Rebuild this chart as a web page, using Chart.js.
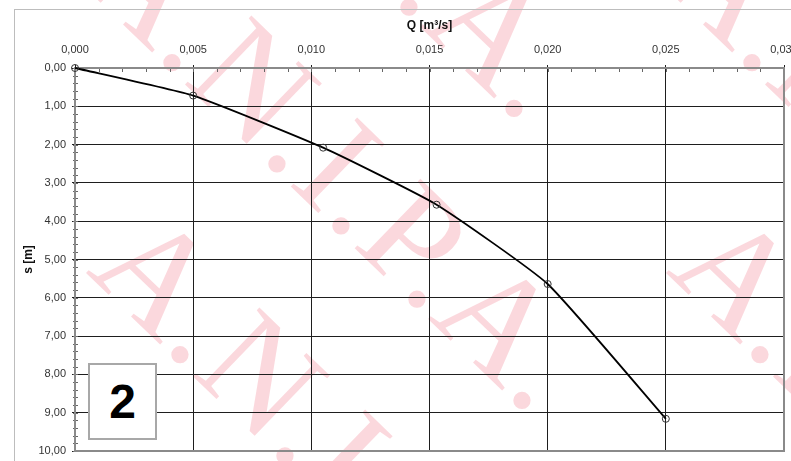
<!DOCTYPE html>
<html>
<head>
<meta charset="utf-8">
<script src="https://cdn.jsdelivr.net/npm/chart.js@4/dist/chart.umd.min.js"></script>
<style>
  html, body { margin: 0; padding: 0; background: #fff; }
  #wrap { position: relative; width: 791px; height: 461px; overflow: hidden; }
  #myChart { position: absolute; left: 0; top: 0; }
  #badge {
    position: absolute; left: 88px; top: 363px; width: 65px; height: 73px;
    border: 2px solid #a8a8a8; background: #fff; color: #000;
    font: bold 48px "Liberation Sans", Arial, sans-serif;
    display: flex; align-items: center; justify-content: center;
  }
</style>
</head>
<body>
<div id="wrap">
  <canvas id="myChart" width="791" height="461"></canvas>
  <div id="badge">2</div>
</div>
<script>
// Q [m3/s] vs drawdown s [m]
const flowQ = [0.000, 0.005, 0.0105, 0.0153, 0.0200, 0.0250];
const drawdownS = [0.00, 0.72, 2.08, 3.57, 5.64, 9.16];

const xTitle = 'Q [m³/s]';
const yTitle = 's [m]';
const watermark = 'A.N.I.P.A.';

const labelFont = { family: '"Liberation Sans", Arial, sans-serif', size: 11 };
const titleFont = { family: '"Liberation Sans", Arial, sans-serif', size: 12, weight: 'bold' };

const points = flowQ.map((q, i) => ({ x: q, y: drawdownS[i] }));

// pink watermark + light outer frame, behind everything
const backdrop = {
  id: 'backdrop',
  beforeDraw(chart) {
    const c = chart.ctx;
    c.save();
    c.font = '146px "Liberation Serif", "Times New Roman", serif';
    c.letterSpacing = '2px';
    c.fillStyle = 'rgba(232, 40, 64, 0.18)';
    c.textBaseline = 'alphabetic';
    for (let i = -2; i <= 2; i++) {
      for (let j = -2; j <= 2; j++) {
        c.save();
        c.translate(77 + i * 580 + j * 8, -20 + j * 292);
        c.rotate(44 * Math.PI / 180);
        c.fillText(watermark, 0, 0);
        c.restore();
      }
    }
    c.letterSpacing = '0px';
    c.strokeStyle = '#bdbdbd';
    c.lineWidth = 1;
    c.strokeRect(14.5, 9.5, 800, 500);
    c.restore();
  },
  beforeDatasetsDraw(chart) {
    const c = chart.ctx;
    const xs = chart.scales.x, ys = chart.scales.y;
    const a = chart.chartArea;
    c.save();
    c.strokeStyle = '#666';
    c.lineWidth = 1;
    c.beginPath();
    // minor ticks on the top axis
    for (let k = 0; k <= 30; k++) {
      const px = Math.round(xs.getPixelForValue(k * 0.001)) + 0.5;
      c.moveTo(px, a.top);
      c.lineTo(px, a.top + 4);
    }
    // minor ticks on the left axis
    for (let k = 0; k <= 50; k++) {
      const py = Math.round(ys.getPixelForValue(k * 0.2)) + 0.5;
      c.moveTo(a.left - 2, py);
      c.lineTo(a.left + 3, py);
    }
    c.stroke();
    // grey plot frame
    c.strokeStyle = '#8a8a8a';
    c.lineWidth = 2;
    c.strokeRect(a.left, a.top, a.right - a.left, a.bottom - a.top);
    c.restore();
  }
};

new Chart(document.getElementById('myChart'), {
  type: 'scatter',
  data: {
    datasets: [{
      data: points,
      showLine: true,
      borderColor: '#000',
      borderWidth: 1.8,
      tension: 0.15,
      pointRadius: 3.5,
      pointBorderColor: '#333',
      pointBorderWidth: 1,
      pointBackgroundColor: 'rgba(0,0,0,0)',
      clip: false
    }]
  },
  options: {
    responsive: false,
    animation: false,
    layout: { padding: { left: 0, top: 0, right: 7, bottom: 10 } },
    plugins: { legend: { display: false }, tooltip: { enabled: false } },
    scales: {
      x: {
        type: 'linear',
        position: 'top',
        min: 0,
        max: 0.03,
        ticks: {
          stepSize: 0.005,
          color: '#333',
          font: labelFont,
          padding: 8,
          maxRotation: 0,
          callback: v => v.toFixed(3).replace('.', ',')
        },
        grid: { color: '#1e1e1e', lineWidth: 1, tickLength: 3 },
        border: { color: '#8a8a8a', width: 2 },
        title: { display: true, text: xTitle, color: '#111', font: titleFont, padding: { top: 18, bottom: 0 } },
        afterFit(scale) {
          scale.height = 68;
          scale.paddingLeft = 0;
          scale.paddingRight = 0;
        }
      },
      y: {
        type: 'linear',
        reverse: true,
        min: 0,
        max: 10,
        ticks: {
          stepSize: 1,
          color: '#333',
          font: labelFont,
          padding: 6,
          callback: v => v.toFixed(2).replace('.', ',')
        },
        grid: { color: '#1e1e1e', lineWidth: 1, tickLength: 3 },
        border: { color: '#8a8a8a', width: 2 },
        title: { display: true, text: yTitle, color: '#111', font: titleFont, padding: { top: 21, bottom: 0 } },
        afterFit(scale) {
          scale.width = 75;
          scale.paddingTop = 0;
          scale.paddingBottom = 0;
        }
      }
    }
  },
  plugins: [backdrop]
});
</script>
</body>
</html>
